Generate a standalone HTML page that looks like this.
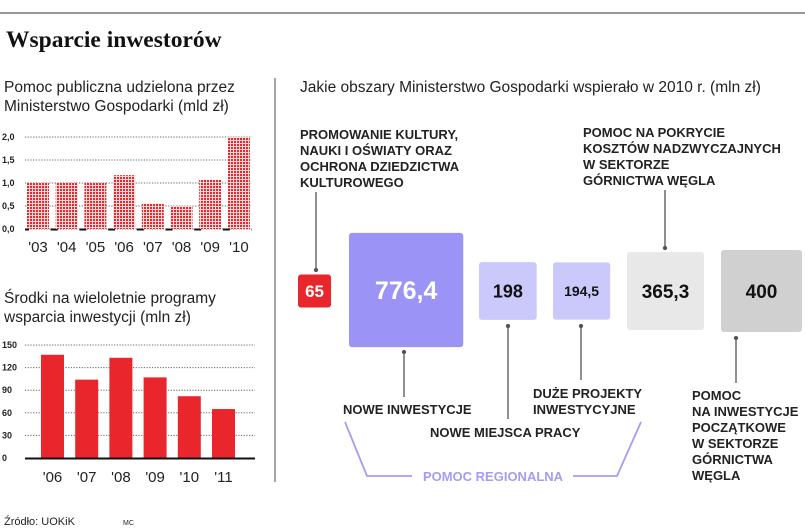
<!DOCTYPE html>
<html><head><meta charset="utf-8"><style>
body{margin:0;background:#fff;width:805px;height:527px;overflow:hidden;font-family:"Liberation Sans","DejaVu Sans",sans-serif}
svg text{font-family:"Liberation Sans","DejaVu Sans",sans-serif}
</style></head><body>
<svg width="805" height="527" viewBox="0 0 805 527" xmlns="http://www.w3.org/2000/svg">
<defs>
<pattern id="dots" width="3" height="3" patternUnits="userSpaceOnUse">
<rect width="3" height="3" fill="#f8dada"/><rect width="2" height="2" fill="#e8262b"/>
</pattern>
</defs>
<line x1="0" y1="13" x2="805" y2="13" stroke="#777" stroke-width="1.5"/>
<text x="6" y="47" font-size="23.5" font-weight="bold" fill="#111" style="font-family:'Liberation Serif',serif">Wsparcie inwestorów</text>
<line x1="275" y1="78" x2="275" y2="482" stroke="#888" stroke-width="1.5"/>

<text font-size="15.5" fill="#222"><tspan x="4" y="92">Pomoc publiczna udzielona przez</tspan><tspan x="4" y="111">Ministerstwo Gospodarki (mld zł)</tspan></text>
<g id="c1"></g>

<text font-size="15.5" fill="#222"><tspan x="4" y="303">Środki na wieloletnie programy</tspan><tspan x="4" y="322">wsparcia inwestycji (mln zł)</tspan></text>
<g id="c2"></g>

<text x="4" y="525" font-size="11" fill="#222">Źródło: UOKiK</text>
<text x="123" y="525" font-size="7" fill="#222">MC</text>

<text x="300" y="92" font-size="15.5" fill="#222">Jakie obszary Ministerstwo Gospodarki wspierało w 2010 r. (mln zł)</text>

<g font-size="13" font-weight="bold" fill="#222">
<text><tspan x="300" y="139">PROMOWANIE KULTURY,</tspan><tspan x="300" y="155">NAUKI I OŚWIATY ORAZ</tspan><tspan x="300" y="171">OCHRONA DZIEDZICTWA</tspan><tspan x="300" y="187">KULTUROWEGO</tspan></text>
<text><tspan x="583" y="137">POMOC NA POKRYCIE</tspan><tspan x="583" y="153">KOSZTÓW NADZWYCZAJNYCH</tspan><tspan x="583" y="169">W SEKTORZE</tspan><tspan x="583" y="185">GÓRNICTWA WĘGLA</tspan></text>
<text x="343" y="414">NOWE INWESTYCJE</text>
<text x="430" y="437">NOWE MIEJSCA PRACY</text>
<text><tspan x="533" y="398">DUŻE PROJEKTY</tspan><tspan x="533" y="414">INWESTYCYJNE</tspan></text>
<text><tspan x="692" y="400">POMOC</tspan><tspan x="692" y="416">NA INWESTYCJE</tspan><tspan x="692" y="432">POCZĄTKOWE</tspan><tspan x="692" y="448">W SEKTORZE</tspan><tspan x="692" y="464">GÓRNICTWA</tspan><tspan x="692" y="480">WĘGLA</tspan></text>
</g>

<g stroke="#555" stroke-width="1.3" fill="#555">
<line x1="316" y1="192" x2="316" y2="270"/><circle cx="316" cy="270" r="1.5"/>
<line x1="665" y1="190" x2="665" y2="248"/><circle cx="665" cy="248" r="1.5"/>
<line x1="404" y1="352" x2="404" y2="397"/><circle cx="404" cy="352" r="1.5"/>
<line x1="508" y1="326" x2="508" y2="419"/><circle cx="508" cy="326" r="1.5"/>
<line x1="581" y1="326" x2="581" y2="380"/><circle cx="581" cy="326" r="1.5"/>
<line x1="736" y1="338" x2="736" y2="383"/><circle cx="736" cy="338" r="1.5"/>
</g>

<g id="boxes"></g>

<path d="M345,422 L367,476 L412,476 M573,476 L617,476 L641,422" fill="none" stroke="#a49cf6" stroke-width="1.8"/>
<text x="493" y="481" text-anchor="middle" font-size="13" font-weight="bold" fill="#a49cf6">POMOC REGIONALNA</text>
</svg>
<script>
const NS='http://www.w3.org/2000/svg';
function mk(tag,attrs,parent){const e=document.createElementNS(NS,tag);for(const k in attrs)e.setAttribute(k,attrs[k]);parent.appendChild(e);return e;}

// Chart 1
const c1Years=["'03","'04","'05","'06","'07","'08","'09","'10"];
const c1Values=[1.0,1.0,1.0,1.17,0.55,0.5,1.07,2.0];
const c1Ticks=[0,0.5,1,1.5,2];
const c1TickLabels=["0,0","0,5","1,0","1,5","2,0"];
// Chart 2
const c2Years=["'06","'07","'08","'09","'10","'11"];
const c2Values=[137,104,133,107,82,65];
const c2Ticks=[0,30,60,90,120,150];
// Boxes
const boxValues=[65,776.4,198,194.5,365.3,400];
const boxLabels=["65","776,4","198","194,5","365,3","400"];

const g1=document.getElementById('c1');
const y1=v=>229-v*46;
const x1=i=>27+i*28.7;
c1Ticks.forEach((t,i)=>{
  const l=mk('line',{x1:25,x2:252,y1:y1(t),y2:y1(t),stroke:'#666','stroke-width':1,'stroke-dasharray':'1.2 1.5'},g1);
  
  
  const tx=mk('text',{x:2,y:y1(t)+3,'font-size':9,'font-weight':'bold',fill:'#222'},g1);tx.textContent=c1TickLabels[i];
  
  
});
mk('line',{x1:25,x2:252,y1:229.5,y2:229.5,stroke:'#111','stroke-width':2,'stroke-dasharray':'7 21.7','stroke-dashoffset':'3'},g1);
c1Values.forEach((v,i)=>{
  const r=mk('rect',{x:x1(i),y:y1(v),width:22,height:229-y1(v),fill:'url(#dots)'},g1);
  
  
  const t=mk('text',{x:x1(i)+11,y:252,'text-anchor':'middle','font-size':15,fill:'#222'},g1);t.textContent=c1Years[i];
  
  
});

const g2=document.getElementById('c2');
const y2=v=>458-v*113/150;
const x2=i=>41+i*34.2;
c2Ticks.forEach(t=>{
  const l=mk('line',{x1:25,x2:255,y1:y2(t),y2:y2(t),stroke:'#666','stroke-width':1,'stroke-dasharray':'1.2 1.5'},g2);
  
  
  const tx=mk('text',{x:2,y:y2(t)+3,'font-size':9,'font-weight':'bold',fill:'#222'},g2);tx.textContent=t;
  
  
});
c2Values.forEach((v,i)=>{
  const r=mk('rect',{x:x2(i),y:y2(v),width:23,height:458-y2(v),fill:'#e8262b'},g2);
  
  
  const t=mk('text',{x:x2(i)+11.5,y:482,'text-anchor':'middle','font-size':15,fill:'#222'},g2);t.textContent=c2Years[i];
  
  
});
mk('line',{x1:25,x2:255,y1:458.5,y2:458.5,stroke:'#111','stroke-width':2},g2);

const gb=document.getElementById('boxes');
const boxX=[298,349,479,553,627,721];
const boxCy=[291,290,291,291,291,291];
const boxFill=['#e8262b','#9b93f5','#cbc8fb','#cbc8fb','#e8e8e8','#d0d0d0'];
const boxText=['#fff','#fff','#111','#111','#111','#111'];
const boxFont=[17,25,18,14,19,19];
const boxW=v=>Math.sqrt(v)*4.1;
boxValues.forEach((v,i)=>{
  const s=boxW(v);
  const h=i==4?78:(i==5?82:s);
  const w=i==4?77:(i==5?81:s);
  const r=mk('rect',{x:boxX[i],y:boxCy[i]-h/2,width:w,height:h,rx:3,fill:boxFill[i]},gb);
  
  
  const t=mk('text',{x:boxX[i]+w/2,y:boxCy[i]+boxFont[i]*0.36,'text-anchor':'middle','font-size':boxFont[i],'font-weight':'bold',fill:boxText[i]},gb);
  t.textContent=boxLabels[i];
  
  
});
</script>
</body></html>
